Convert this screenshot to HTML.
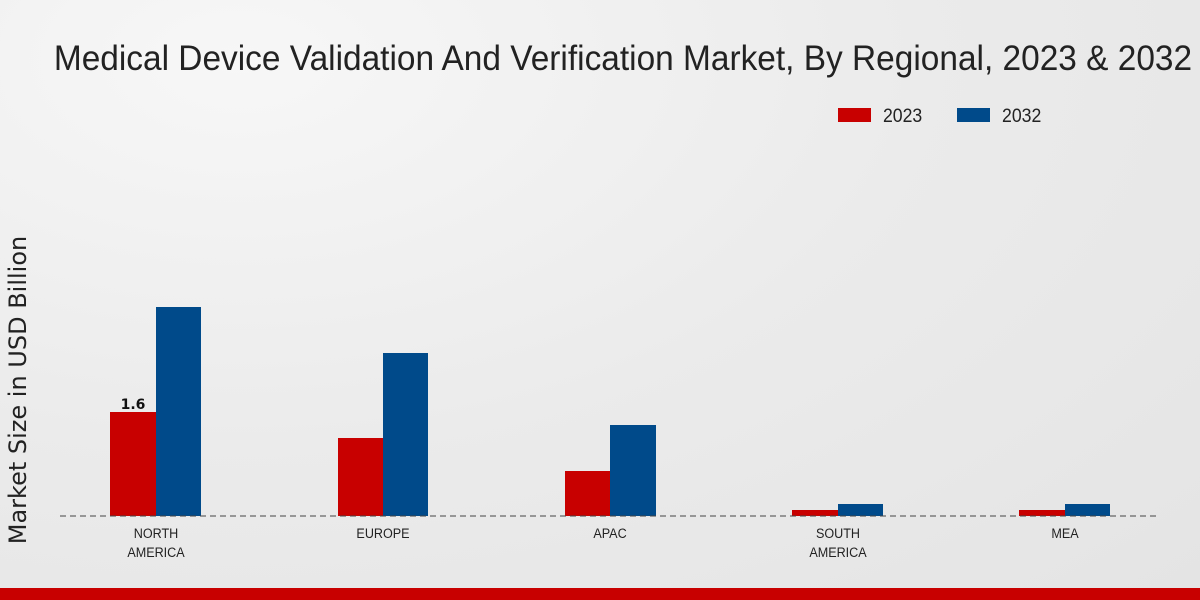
<!DOCTYPE html>
<html><head><meta charset="utf-8"><style>
html,body{margin:0;padding:0}
body{width:1200px;height:600px;overflow:hidden;background:radial-gradient(ellipse at 20% 10%,#f7f7f7 0%,#ebebeb 50%,#e4e4e4 100%);font-family:"Liberation Sans","DejaVu Sans",sans-serif;position:relative}
</style></head><body>
<svg width="1200" height="600" style="position:absolute;left:0;top:0">
<text x="623" y="70" text-anchor="middle" font-family="Liberation Sans, sans-serif" font-size="35" fill="#222" transform="translate(623 0) scale(0.955 1) translate(-623 0)">Medical Device Validation And Verification Market, By Regional, 2023 &amp; 2032</text>
<rect x="838" y="108" width="33" height="14" fill="#c80000"/>
<text x="883" y="122" font-size="19" fill="#222" transform="translate(883 0) scale(0.93 1) translate(-883 0)">2023</text>
<rect x="957" y="108" width="33" height="14" fill="#004a8a"/>
<text x="1002" y="122" font-size="19" fill="#222" transform="translate(1002 0) scale(0.93 1) translate(-1002 0)">2032</text>
<text x="26" y="390" font-family="DejaVu Sans, sans-serif" font-size="24" fill="#222" text-anchor="middle" transform="rotate(-90 26 390)">Market Size in USD Billion</text>
<g fill="#c80000">
<rect x="110" y="412" width="46" height="104"/>
<rect x="338" y="438" width="45" height="78"/>
<rect x="565" y="471" width="45" height="45"/>
<rect x="792" y="510" width="46" height="6"/>
<rect x="1019" y="510" width="46" height="6"/>
</g>
<g fill="#004a8a">
<rect x="156" y="307" width="45" height="209"/>
<rect x="383" y="353" width="45" height="163"/>
<rect x="610" y="425" width="46" height="91"/>
<rect x="838" y="504" width="45" height="12"/>
<rect x="1065" y="504" width="45" height="12"/>
</g>
<line x1="60" y1="516" x2="1160" y2="516" stroke="#444" stroke-width="1" stroke-dasharray="6,4"/>
<text x="133" y="409" font-family="DejaVu Sans, sans-serif" font-size="14" font-weight="bold" fill="#111" text-anchor="middle">1.6</text>
<g font-size="14" fill="#222" text-anchor="middle">
<g transform="translate(156 0) scale(0.9 1)"><text x="0" y="538">NORTH</text><text x="0" y="557">AMERICA</text></g>
<g transform="translate(383 0) scale(0.9 1)"><text x="0" y="538">EUROPE</text></g>
<g transform="translate(610 0) scale(0.9 1)"><text x="0" y="538">APAC</text></g>
<g transform="translate(838 0) scale(0.9 1)"><text x="0" y="538">SOUTH</text><text x="0" y="557">AMERICA</text></g>
<g transform="translate(1065 0) scale(0.9 1)"><text x="0" y="538">MEA</text></g>
</g>
<rect x="0" y="588" width="1200" height="12" fill="#c80000"/>
</svg>
</body></html>
